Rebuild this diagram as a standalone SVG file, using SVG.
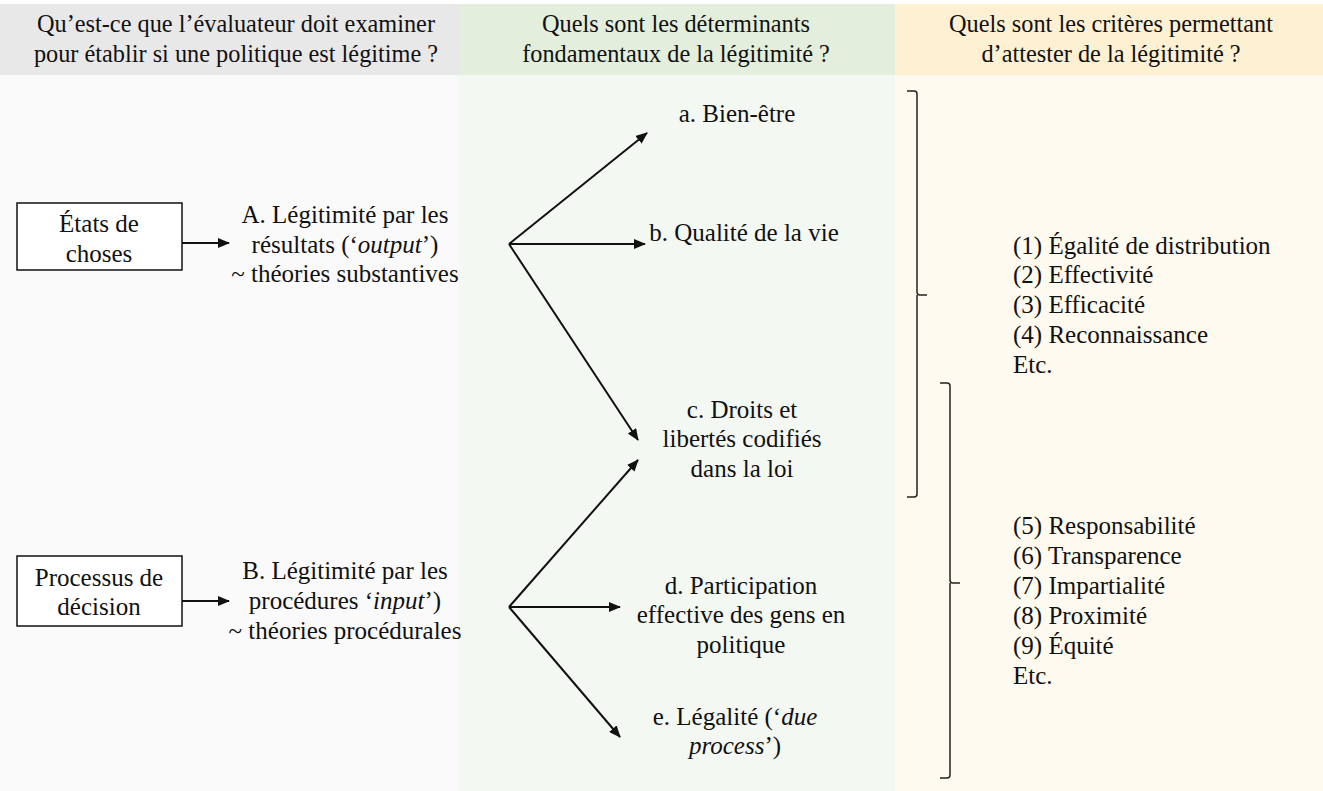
<svg xmlns="http://www.w3.org/2000/svg" width="1323" height="791" viewBox="0 0 1323 791" font-family="Liberation Serif, Times New Roman, serif" font-size="25">
<style>
text{font-family:'Liberation Serif',serif;font-size:25px;fill:#111}
.c{text-anchor:middle}
.h{font-size:24.3px}
.ln{stroke:#111;stroke-width:2;fill:none}
.br{stroke:#222;stroke-width:1.5;fill:none}
.box{fill:#fff;stroke:#111;stroke-width:1.5}
</style>
<defs>
<marker id="ah" viewBox="0 0 12 10" refX="11" refY="5" markerWidth="12" markerHeight="10" markerUnits="userSpaceOnUse" orient="auto">
<path d="M0,0 L12,5 L0,10 Z" fill="#111"/>
</marker>
</defs>
<rect width="1323" height="791" fill="#fff"/>
<g id="columns">
<rect x="0" y="4" width="459" height="71" fill="#e9e8e8"/>
<rect x="0" y="75" width="459" height="716" fill="#fafafa"/>
<rect x="459" y="4" width="436" height="71" fill="#e3eedc"/>
<rect x="459" y="75" width="436" height="716" fill="#f4f8f2"/>
<rect x="895" y="4" width="428" height="71" fill="#fdf0d3"/>
<rect x="895" y="75" width="428" height="716" fill="#fefaef"/>
</g>
<g id="headers">
<text class="c h" x="236" y="32">Qu’est-ce que l’évaluateur doit examiner</text>
<text class="c h" x="236" y="62">pour établir si une politique est légitime ?</text>
<text class="c h" x="676" y="32">Quels sont les déterminants</text>
<text class="c h" x="676" y="62">fondamentaux de la légitimité ?</text>
<text class="c h" x="1111" y="32">Quels sont les critères permettant</text>
<text class="c h" x="1111" y="62">d’attester de la légitimité ?</text>
</g>
<g id="box-etats">
<rect class="box" x="17" y="203" width="165" height="67"/>
<text class="c" x="99" y="232">États de</text>
<text class="c" x="99" y="262">choses</text>
</g>
<g id="box-processus">
<rect class="box" x="17" y="556" width="165" height="70"/>
<text class="c" x="99" y="586">Processus de</text>
<text class="c" x="99" y="615">décision</text>
</g>
<g id="node-A">
<text class="c" x="345" y="223">A. Légitimité par les</text>
<text class="c" x="345" y="253">résultats (‘<tspan font-style="italic">output</tspan>’)</text>
<text class="c" x="345" y="282">~ théories substantives</text>
</g>
<g id="node-B">
<text class="c" x="345" y="579">B. Légitimité par les</text>
<text class="c" x="345" y="609">procédures ‘<tspan font-style="italic">input</tspan>’)</text>
<text class="c" x="345" y="639">~ théories procédurales</text>
</g>
<g id="node-a"><text class="c" x="737" y="122">a. Bien-être</text></g>
<g id="node-b"><text class="c" x="744" y="241">b. Qualité de la vie</text></g>
<g id="node-c">
<text class="c" x="742" y="418">c. Droits et</text>
<text class="c" x="742" y="447">libertés codifiés</text>
<text class="c" x="742" y="477">dans la loi</text>
</g>
<g id="node-d">
<text class="c" x="741" y="594">d. Participation</text>
<text class="c" x="741" y="623">effective des gens en</text>
<text class="c" x="741" y="653">politique</text>
</g>
<g id="node-e">
<text class="c" x="735" y="725">e. Légalité (‘<tspan font-style="italic">due</tspan></text>
<text class="c" x="735" y="754"><tspan font-style="italic">process</tspan>’)</text>
</g>
<g id="criteria-1">
<text x="1013" y="254">(1) Égalité de distribution</text>
<text x="1013" y="283">(2) Effectivité</text>
<text x="1013" y="313">(3) Efficacité</text>
<text x="1013" y="343">(4) Reconnaissance</text>
<text x="1013" y="373">Etc.</text>
</g>
<g id="criteria-2">
<text x="1013" y="534">(5) Responsabilité</text>
<text x="1013" y="564">(6) Transparence</text>
<text x="1013" y="594">(7) Impartialité</text>
<text x="1013" y="624">(8) Proximité</text>
<text x="1013" y="654">(9) Équité</text>
<text x="1013" y="684">Etc.</text>
</g>
<g id="connectors">
<line class="ln" x1="182" y1="243" x2="229" y2="243" marker-end="url(#ah)"/>
<line class="ln" x1="182" y1="601" x2="229" y2="601" marker-end="url(#ah)"/>
<line class="ln" x1="509" y1="244" x2="647" y2="133" marker-end="url(#ah)"/>
<line class="ln" x1="509" y1="244" x2="645" y2="244" marker-end="url(#ah)"/>
<line class="ln" x1="509" y1="244" x2="638" y2="440" marker-end="url(#ah)"/>
<line class="ln" x1="509" y1="607" x2="638" y2="460" marker-end="url(#ah)"/>
<line class="ln" x1="509" y1="607" x2="620" y2="607" marker-end="url(#ah)"/>
<line class="ln" x1="509" y1="607" x2="620" y2="737" marker-end="url(#ah)"/>
</g>
<g id="brackets">
<path class="br" d="M907,91 L914,91 Q917,91 917,94 L917,292 Q917,295 920,295 L927,295 M917,295 L917,494 Q917,497 914,497 L907,497"/>
<path class="br" d="M940,383 L947,383 Q950,383 950,386 L950,580 Q950,583 953,583 L960,583 M950,583 L950,775 Q950,778 947,778 L940,778"/>
</g>
</svg>
